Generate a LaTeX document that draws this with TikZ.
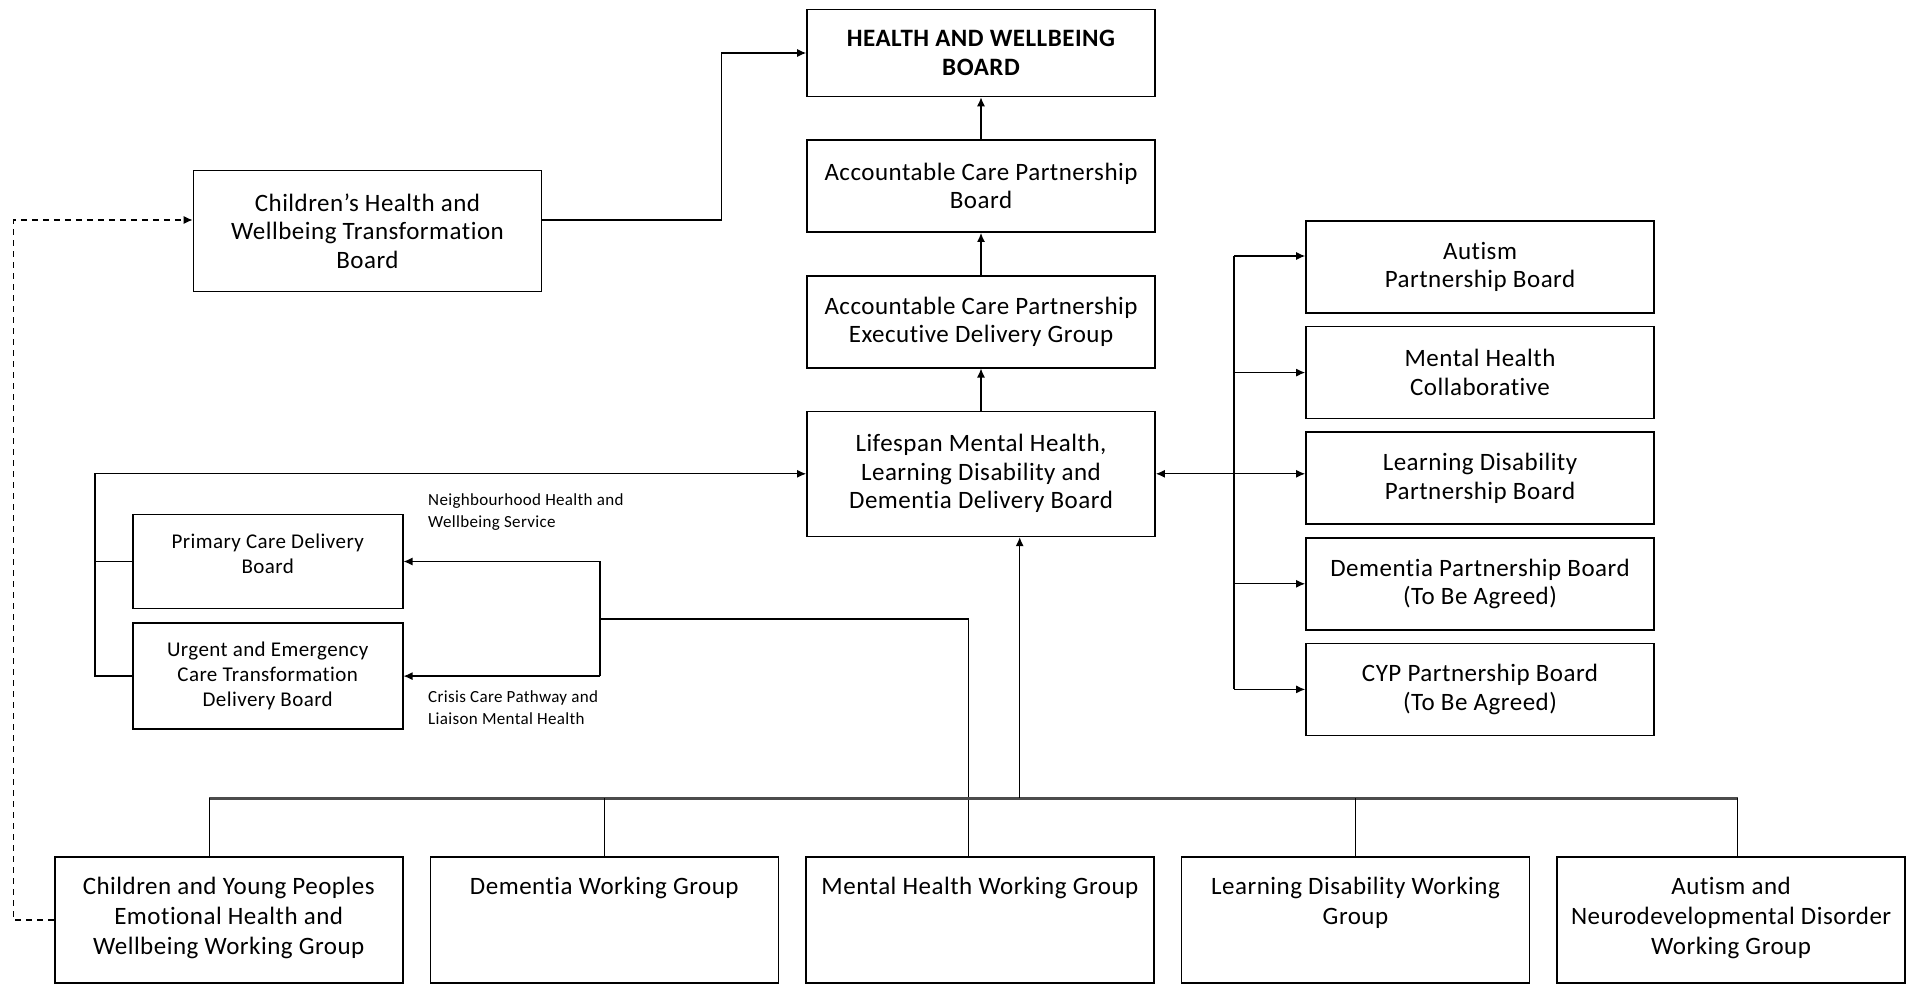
\documentclass[tikz,border=0pt]{standalone}
\usepackage{fontspec}
\setmainfont{Carlito}[LetterSpace=2, Ligatures=NoCommon]
\usepackage{tikz}
\usetikzlibrary{arrows.meta,positioning,calc}
\newcommand{\hwfont}{\fontsize{25}{28.5}\selectfont}
\newcommand{\hwsmall}{\fontsize{21}{25}\selectfont}
\newcommand{\hwnote}{\fontsize{17}{22}\selectfont}
\newcommand{\hwwg}{\fontsize{25}{30}\selectfont}
\newcommand{\wgtext}[1]{\parbox[c][86pt][t]{330pt}{\centering #1}}
\tikzset{
  hwbox/.style={
    draw=black, line width=1.6pt, align=center, inner sep=4pt,
    font=\hwfont, minimum width=348pt, minimum height=92pt
  },
  sub/.style={hwbox, font=\hwsmall, minimum width=270pt, minimum height=94pt},
  wg/.style={hwbox, font=\hwwg, minimum height=126pt, inner ysep=20pt},
  note/.style={font=\hwnote, align=left, inner sep=0pt, anchor=north west},
  link/.style={draw=black, line width=1.3pt},
  arr/.style={link, -{Latex[length=9pt,width=8pt]}},
  arrb/.style={link, {Latex[length=9pt,width=8pt]}-{Latex[length=9pt,width=8pt]}},
  darr/.style={arr, dash pattern=on 6pt off 5pt},
  bus/.style={draw=black!70, line width=3pt},
  drop/.style={draw=black, line width=1pt}
}
\begin{document}
\begin{tikzpicture}[x=1pt, y=-1pt, node distance=42pt]
  \useasboundingbox (0,0) rectangle (1908,985);
  \node[hwbox, minimum height=87pt, font=\hwfont\bfseries] (hwb) at (981,53) {HEALTH AND WELLBEING\\BOARD};
  \node[hwbox, below=of hwb] (acp) {Accountable Care Partnership\\Board};
  \node[hwbox, below=of acp] (exec) {Accountable Care Partnership\\Executive Delivery Group};
  \node[hwbox, below=of exec, minimum height=125pt] (lsp) {Lifespan Mental Health,\\Learning Disability and\\Dementia Delivery Board};
  \node[hwbox, minimum height=121pt] (chb) at (367.5,231) {Children’s Health and\\Wellbeing Transformation\\Board};
  \node[hwbox] (aut) at (1480,267) {Autism\\Partnership Board};
  \node[hwbox, below=12pt of aut] (mhc) {Mental Health\\Collaborative};
  \node[hwbox, below=12pt of mhc] (ld) {Learning Disability\\Partnership Board};
  \node[hwbox, below=12pt of ld] (dem) {Dementia Partnership Board\\(To Be Agreed)};
  \node[hwbox, below=12pt of dem] (cyp) {CYP Partnership Board\\(To Be Agreed)};
  \node[sub] (pcb) at (267.7,561.5) {Primary Care Delivery\\Board\\[-9pt]};
  \node[sub, below=13pt of pcb, minimum height=106pt] (uec) {Urgent and Emergency\\Care Transformation\\Delivery Board};
  \node[note] (nbh) at (428,493) {Neighbourhood Health and\\Wellbeing Service};
  \node[note] (crisis) at (428,690) {Crisis Care Pathway and\\Liaison Mental Health};
  \node[wg] (cywg) at (228.7,920) {\wgtext{Children and Young Peoples\\Emotional Health and\\Wellbeing Working Group}};
  \node[wg, right=26pt of cywg] (demwg) {\wgtext{Dementia Working Group}};
  \node[wg, right=26pt of demwg] (mhwg) {\wgtext{Mental Health Working Group}};
  \node[wg, right=26pt of mhwg] (ldwg) {\wgtext{Learning Disability Working\\Group}};
  \node[wg, right=26pt of ldwg] (autwg) {\wgtext{Autism and\\Neurodevelopmental Disorder\\Working Group}};

  \coordinate (jn) at (721.5,53);
  \coordinate (dl) at (13.4,0);
  \coordinate (lb) at (95,0);
  \coordinate (bk) at (600,619);
  \coordinate (mj) at (968.6,619);
  \coordinate (rb) at (1234,0);
  \coordinate (bl) at (209,798);
  \coordinate (br) at (1737.6,798);
  \coordinate (up) at (1019.7,798);
  \coordinate (autin) at ([yshift=11pt]aut.west);

  \draw[arr] (acp.north) -- (hwb.south);
  \draw[arr] (exec.north) -- (acp.south);
  \draw[arr] (lsp.north) -- (exec.south);
  \draw[arr] ([yshift=11pt]chb.east) -| (jn) -- (hwb.west);
  \draw[darr] (cywg.west) -- (cywg.west -| dl) |- ([yshift=11pt]chb.west);

  \draw[arr] (uec.west) -| (lb |- lsp.west) -- (lsp.west);
  \draw[link] (pcb.west) -- (pcb.west -| lb);
  \draw[arr] (uec.east -| bk) |- (pcb.east);
  \draw[arr] (uec.east -| bk) -- (uec.east);
  \draw[drop] (mhwg.north -| mj) -- (mj);
  \draw[link] (mj) -- (bk);

  \draw[link] (autin -| rb) -- (cyp.west -| rb);
  \draw[arr] (autin -| rb) -- (autin);
  \foreach \n in {mhc,dem,cyp}
    \draw[arr] (\n.west -| rb) -- (\n.west);
  \draw[arrb] (lsp.east) -- (lsp.east -| ld.west);

  \draw[bus] (bl) -- (br);
  \draw[drop] (bl) -- (bl |- cywg.north);
  \draw[drop] (demwg.north |- bl) -- (demwg.north);
  \draw[drop] (ldwg.north |- bl) -- (ldwg.north);
  \draw[drop] (br) -- (br |- autwg.north);
  \draw[arr] (up) -- (up |- lsp.south);
\end{tikzpicture}
\end{document}
